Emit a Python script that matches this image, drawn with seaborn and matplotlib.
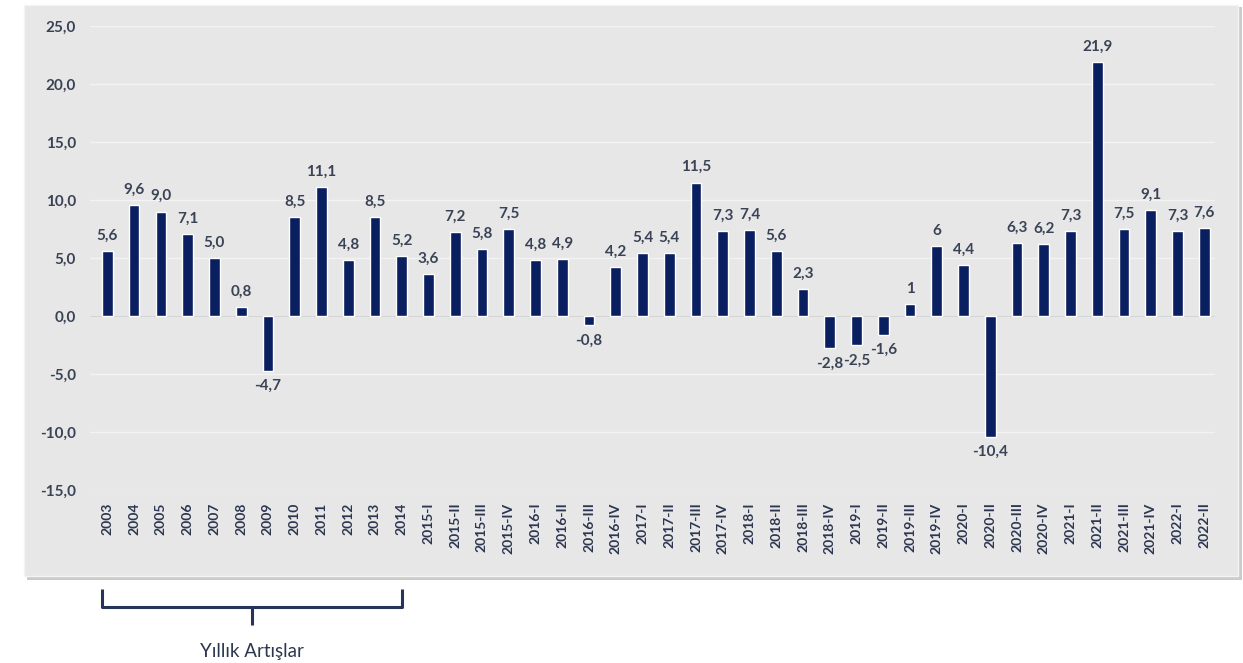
import matplotlib
matplotlib.use("Agg")
import matplotlib.pyplot as plt
import matplotlib.transforms as mtransforms
from matplotlib.patches import FancyBboxPatch
from matplotlib.ticker import FuncFormatter, FixedLocator
import seaborn as sns
import pandas as pd

# Annual growth 2003-2014, then quarterly growth 2015-I .. 2022-II
years = [str(y) for y in range(2003, 2015)]
quarters = [
    "2015-I", "2015-II", "2015-III", "2015-IV",
    "2016-I", "2016-II", "2016-III", "2016-IV",
    "2017-I", "2017-II", "2017-III", "2017-IV",
    "2018-I", "2018-II", "2018-III", "2018-IV",
    "2019-I", "2019-II", "2019-III", "2019-IV",
    "2020-I", "2020-II", "2020-III", "2020-IV",
    "2021-I", "2021-II", "2021-III", "2021-IV",
    "2022-I", "2022-II",
]
annual_values = [5.6, 9.6, 9.0, 7.1, 5.0, 0.8, -4.7, 8.5, 11.1, 4.8, 8.5, 5.2]
quarter_values = [
    3.6, 7.2, 5.8, 7.5,
    4.8, 4.9, -0.8, 4.2,
    5.4, 5.4, 11.5, 7.3,
    7.4, 5.6, 2.3, -2.8,
    -2.5, -1.6, 1, 6,
    4.4, -10.4, 6.3, 6.2,
    7.3, 21.9, 7.5, 9.1,
    7.3, 7.6,
]
y_ticks = [-15, -10, -5, 0, 5, 10, 15, 20, 25]
bracket_text = "Yıllık Artışlar"

categories = years + quarters
values = annual_values + quarter_values
df = pd.DataFrame({"period": categories, "growth": values})


def fmt_value(v):
    if isinstance(v, int):
        return str(v)
    return f"{v:.1f}".replace(".", ",")


sns.set_theme(style="white")
plt.rcParams["font.family"] = ["Lato", "DejaVu Sans"]

W, H = 1243, 663
fig = plt.figure(figsize=(W / 100, H / 100), dpi=100)
fig.patch.set_facecolor("white")

# grey card behind the chart, with a soft shadow
shadow = FancyBboxPatch((27 / W, 1 - 580 / H), (1215 / W), (573 / H),
                        boxstyle="square,pad=0", transform=fig.transFigure,
                        facecolor="#cbcbcb", edgecolor="none", zorder=-2)
card = FancyBboxPatch((24 / W, 1 - 576 / H), (1214 / W), (571 / H),
                      boxstyle="square,pad=0", transform=fig.transFigure,
                      facecolor="#e7e7e7", edgecolor="#f4f4f4", lw=1, zorder=-1)
fig.patches.extend([shadow, card])

ax = fig.add_axes([90 / W, 1 - 490 / H, (1215 - 90) / W, (490 - 26) / H])
ax.set_facecolor("none")
ax.set_zorder(2)

navy = "#0a1f5f"
sns.barplot(data=df, x="period", y="growth", color=navy, width=0.4,
            saturation=1, ax=ax, zorder=3)

ax.set_ylim(-15, 25)
ax.set_xlim(-0.65, len(categories) - 0.6)
ax.yaxis.set_major_locator(FixedLocator(y_ticks))
ax.yaxis.set_major_formatter(FuncFormatter(lambda v, p: f"{v:.1f}".replace(".", ",")))
ax.grid(axis="y", color="#f3f3f3", lw=1.0, zorder=1)
ax.axhline(0, color="#d4d4d4", lw=0.8, zorder=2)

for s in ax.spines.values():
    s.set_visible(False)
ax.tick_params(axis="both", length=0)
ax.tick_params(axis="y", pad=10)
ax.tick_params(axis="x", pad=9)
ax.set_xlabel("")
ax.set_ylabel("")

for lbl in ax.get_yticklabels():
    lbl.set_fontsize(11)
    lbl.set_fontweight("bold")
    lbl.set_color("#3a4356")
for lbl in ax.get_xticklabels():
    lbl.set_rotation(90)
    lbl.set_fontsize(10)
    lbl.set_fontweight("bold")
    lbl.set_color("#2c3650")

ax.bar_label(ax.containers[0], labels=[fmt_value(v) for v in values],
             padding=6, fontsize=11, fontweight="bold", color="#3a4356")

# bracket marking the annual section
trans = mtransforms.blended_transform_factory(ax.transData, fig.transFigure)
x0, x1 = -0.2, len(years) - 1
y_top, y_bar, y_stem = 1 - 589 / H, 1 - 607 / H, 1 - 625 / H
xm = (x0 + x1) / 2
line_kw = dict(transform=trans, color="#27345a", lw=2.2, clip_on=False,
               solid_capstyle="butt")
ax.plot([x0, x0, x1, x1], [y_top, y_bar, y_bar, y_top], **line_kw)
ax.plot([xm, xm], [y_bar, y_stem], **line_kw)
ax.text(xm, 1 - 652 / H, bracket_text, transform=trans, ha="center", va="center",
        fontsize=13.5, color="#2c3650", clip_on=False)

fig.savefig("out.png", dpi=100)
